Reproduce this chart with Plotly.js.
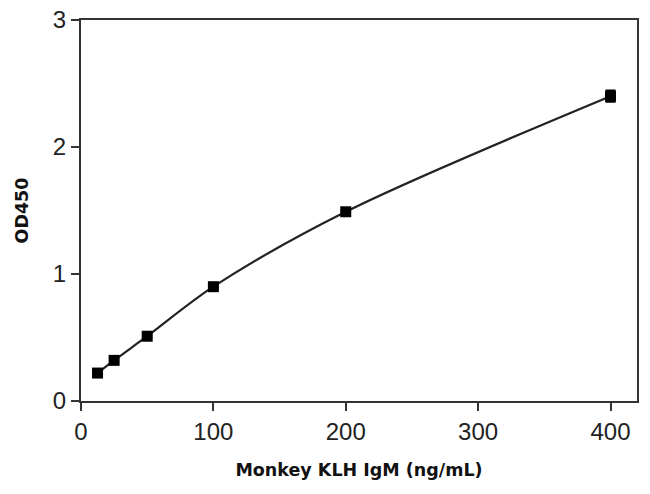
<!DOCTYPE html>
<html>
<head>
<meta charset="utf-8">
<script src="https://cdn.plot.ly/plotly-3.0.1.min.js"></script>
<style>
  html, body { margin: 0; padding: 0; background: #fff; }
  #myDiv { width: 650px; height: 494px; }
</style>
</head>
<body>
<div id="myDiv"></div>
<script>
// standard curve readings
var conc = [12.5, 25, 50, 100, 200, 400];
var od = [0.22, 0.32, 0.51, 0.90, 1.49, 2.40];
var odErr = [0.01, 0.01, 0.01, 0.01, 0.01, 0.04];
var xTicks = [0, 100, 200, 300, 400];
var yTicks = [0, 1, 2, 3];

var titleFont = '"DejaVu Sans", Lato, sans-serif';
var tickFont = '"Liberation Sans", Arial, sans-serif';

var data = [
  {
    type: 'scatter',
    mode: 'lines',
    x: conc,
    y: od,
    line: {color: '#222', width: 2.2, shape: 'spline', smoothing: 0.9},
    hoverinfo: 'skip'
  },
  {
    type: 'scatter',
    mode: 'markers',
    x: conc,
    y: od,
    marker: {symbol: 'square', size: 11, color: '#000'},
    error_y: {type: 'data', array: odErr, visible: true, color: '#000', thickness: 3, width: 5}
  }
];

var axisBase = {
  showline: true,
  linecolor: '#333',
  linewidth: 2,
  mirror: true,
  showgrid: false,
  zeroline: false,
  ticks: 'outside',
  ticklen: 8,
  tickwidth: 2,
  tickcolor: '#333',
  tickfont: {family: tickFont, size: 24, color: '#222'}
};

var layout = {
  width: 650,
  height: 494,
  margin: {l: 81, r: 13, t: 20, b: 93},
  paper_bgcolor: '#fff',
  plot_bgcolor: '#fff',
  showlegend: false,
  xaxis: Object.assign({}, axisBase, {
    range: [0, 420],
    tickvals: xTicks,
    title: {text: '<b>Monkey KLH IgM (ng/mL)</b>', font: {family: titleFont, size: 17.5, color: '#111'}, standoff: 20}
  }),
  yaxis: Object.assign({}, axisBase, {
    range: [0, 3],
    tickvals: yTicks,
    title: {text: '<b>OD450</b>', font: {family: titleFont, size: 17.5, color: '#111'}, standoff: 20}
  })
};

Plotly.newPlot('myDiv', data, layout, {displayModeBar: false, staticPlot: true});
</script>
</body>
</html>
